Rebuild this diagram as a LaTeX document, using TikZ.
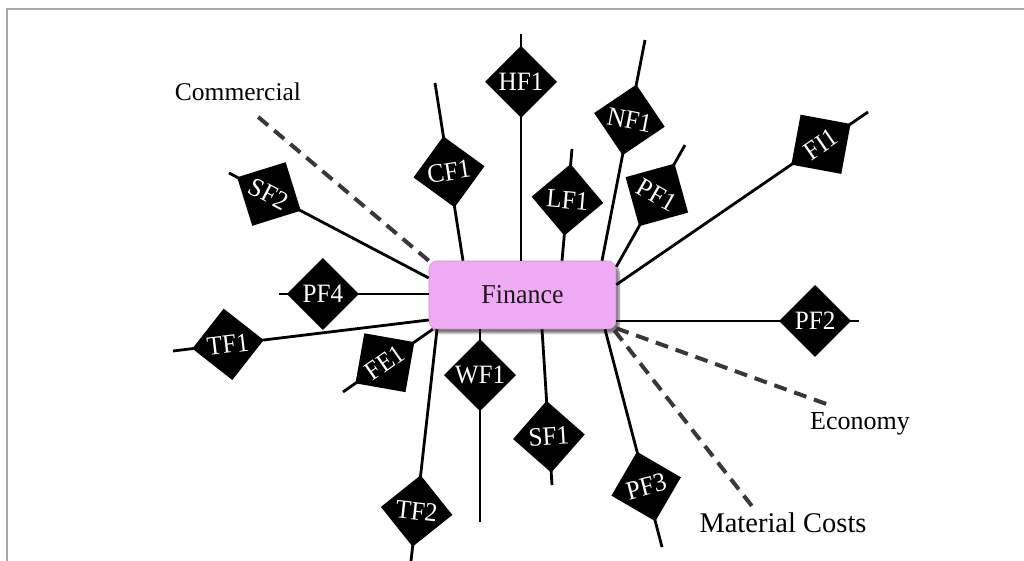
\documentclass[tikz,border=0pt]{standalone}
\usepackage{fontspec}
\setmainfont{Liberation Serif}
\newfontfamily\narrowserif[FakeStretch=0.95]{Liberation Serif}
\usetikzlibrary{shapes.geometric,calc,shadows.blur}

\definecolor{finfill}{RGB}{238,170,242}
\definecolor{framegray}{RGB}{168,168,168}

% one factor: a spoke from the hub to a free end, with a diamond on it
% #1 name/label, #2 start on the hub, #3 free end, #4 position of diamond, #5 tilt
\newcommand\spokeline[5]{%
  \coordinate (e#1) at #3;
  \draw[spoke] #2 -- (e#1);
  \node[factor, rotate=#5] (#1) at ($#2!#4!(e#1)$) {#1};
}

\begin{document}
\begin{tikzpicture}[x=1pt,y=1pt,
  spoke/.style={line width=2.8pt, black},
  trend/.style={line width=4pt, black!78, dash pattern=on 13pt off 8pt},
  factor/.style={diamond, aspect=1, fill=black, text=white, inner sep=0pt,
    minimum width=72pt, minimum height=72pt,
    font=\narrowserif\fontsize{26.5}{28}\selectfont},
  hub/.style={rectangle, rounded corners=8pt, fill=finfill, draw=finfill!88!black,
    line width=0.6pt, minimum width=187pt, minimum height=68pt,
    font=\narrowserif\fontsize{27.3}{29}\selectfont, text=black!90,
    blur shadow={shadow xshift=3pt, shadow yshift=-4pt, shadow blur steps=8, shadow opacity=55}},
  tag/.style={inner sep=0pt}
]
\useasboundingbox (0,0) rectangle (1024,561);

% frame
\draw[framegray, line width=2pt] (7,-2) -- (7,551.5) -- (1026,551.5);

% hub
\node[hub] (fin) at (522.5,266) {Finance};

% dashed trends
\coordinate (eCom) at (257,445);
\coordinate (eEco) at (832,155);
\coordinate (eMat) at (755,51);
\draw[trend] (fin.north west) -- (eCom);
\draw[trend] ([yshift=1pt]fin.south east) -- (eEco);
\draw[trend] ([xshift=-2pt,yshift=-1pt]fin.south east) -- (eMat);
\node[tag, font=\fontsize{25.5}{27}\selectfont] (commercial) at (238,469) {Commercial};
\node[tag, font=\fontsize{26}{28}\selectfont] (economy) at (860,137) {Economy};
\node[tag, font=\fontsize{28.5}{30}\selectfont] (material) at (783,38) {Material Costs};

% factors
\spokeline{HF1}{([xshift=-1.5pt]fin.north)}{(521,527)}{0.789}{0}
\spokeline{CF1}{([xshift=-59.5pt]fin.north)}{(435,478)}{0.5}{9}
\spokeline{LF1}{([xshift=39.5pt]fin.north)}{(572,412)}{0.545}{-5}
\spokeline{NF1}{([xshift=79.5pt]fin.north)}{(645,521)}{0.638}{-11}
\spokeline{PF1}{([yshift=-6pt]fin.north east)}{(685,416)}{0.59}{-29.5}
\spokeline{FI1}{([yshift=-24pt]fin.north east)}{(868,449)}{0.813}{34.5}
\spokeline{PF2}{([yshift=-26pt]fin.east)}{(859,240)}{0.819}{0}
\spokeline{PF3}{([xshift=82.5pt]fin.south)}{(662,14)}{0.722}{14.8}
\spokeline{SF1}{([xshift=19.5pt]fin.south)}{(552,76)}{0.69}{3.7}
\spokeline{WF1}{([xshift=-42.5pt]fin.south)}{(480,39)}{0.238}{0}
\spokeline{TF2}{([xshift=-85.5pt]fin.south)}{(411,0)}{0.784}{-6.4}
\spokeline{FE1}{([xshift=4pt]fin.south west)}{(343,169)}{0.533}{35}
\spokeline{TF1}{([yshift=-25pt]fin.west)}{(173,210)}{0.785}{6.9}
\spokeline{PF4}{([yshift=1pt]fin.west)}{(279,267)}{0.707}{0}
\spokeline{SF2}{([yshift=17pt]fin.west)}{(229,388)}{0.8}{-27.7}

\end{tikzpicture}
\end{document}
